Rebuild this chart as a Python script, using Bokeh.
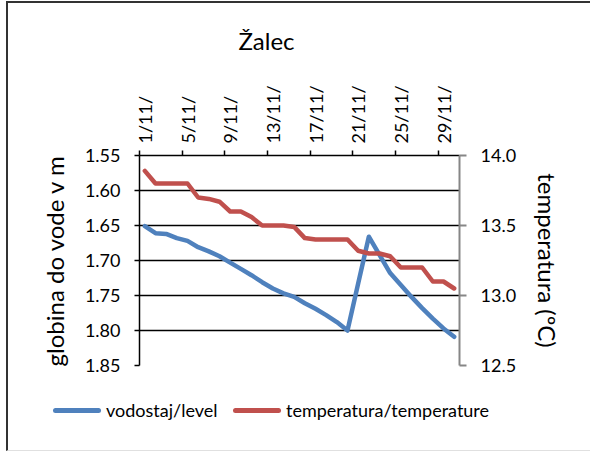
from bokeh.plotting import figure
from bokeh.layouts import column
from bokeh.models import (Range1d, LinearAxis, FixedTicker, NumeralTickFormatter, Div)
from bokeh.embed import file_html
from bokeh.resources import INLINE
import math

# ---- data ----
days = list(range(1, 31))
level = [1.651, 1.661, 1.662, 1.668, 1.672, 1.681, 1.687, 1.694, 1.703, 1.712,
         1.721, 1.731, 1.740, 1.747, 1.752, 1.761, 1.769, 1.778, 1.788, 1.800,
         1.733, 1.666, 1.692, 1.718, 1.735, 1.752, 1.768, 1.783, 1.797, 1.809]
temperature = [13.89, 13.80, 13.80, 13.80, 13.80, 13.70, 13.69, 13.67, 13.60, 13.60,
               13.56, 13.50, 13.50, 13.50, 13.49, 13.41, 13.40, 13.40, 13.40, 13.40,
               13.32, 13.30, 13.30, 13.28, 13.20, 13.20, 13.20, 13.10, 13.10, 13.05]
x_label_days = [1, 5, 9, 13, 17, 21, 25, 29]
x_labels = ["1/11/", "5/11/", "9/11/", "13/11/", "17/11/", "21/11/", "25/11/", "29/11/"]
x_boundaries = [0.5, 4.5, 8.5, 12.5, 16.5, 20.5, 24.5, 28.5]
level_ticks = [1.55, 1.60, 1.65, 1.70, 1.75, 1.80, 1.85]
temp_ticks = [12.5, 13.0, 13.5, 14.0]
series_names = ["vodostaj/level", "temperatura/temperature"]
chart_title = "Žalec"

FONT = "Lato"
BLUE = "#4F81BD"
RED = "#C0504D"

# ---- title strip ----
title_html = ('<div style="position:relative;width:582px;height:60px;">'
              '<span style="position:absolute;left:0px;top:23px;width:517px;text-align:center;'
              f'line-height:30px;font-family:{FONT};font-size:24px;color:black;">{chart_title}</span>'
              '</div>')
title_div = Div(text=title_html, width=582, height=60, margin=0)

# ---- main chart ----
p = figure(width=582, height=322, output_backend="svg", toolbar_location=None,
           x_axis_location="above",
           x_range=Range1d(0.5, 30.5), y_range=Range1d(1.85, 1.55),
           min_border_left=131, min_border_top=92, min_border_right=131,
           min_border_bottom=20, margin=0)
p.outline_line_color = None
p.background_fill_color = "white"
p.border_fill_color = "white"

p.extra_y_ranges = {"temp": Range1d(12.5, 14.0)}

# top x axis
xa = p.xaxis[0]
xa.ticker = FixedTicker(ticks=x_label_days, minor_ticks=x_boundaries)
xa.major_label_overrides = {d: lab for d, lab in zip(x_label_days, x_labels)}
xa.major_label_orientation = math.pi / 2
xa.major_tick_in = 0
xa.major_tick_out = 0
xa.minor_tick_in = 0
xa.minor_tick_out = 5
xa.minor_tick_line_color = "black"
xa.minor_tick_line_width = 1.5
xa.axis_line_color = "black"
xa.axis_line_width = 1.5
xa.major_label_text_font = FONT
xa.major_label_text_font_size = "18px"
xa.major_label_text_color = "black"
xa.major_label_standoff = 7

# left y axis
ya = p.yaxis[0]
ya.ticker = FixedTicker(ticks=level_ticks)
ya.formatter = NumeralTickFormatter(format="0.00")
ya.axis_label = "globina do vode v m"
ya.axis_label_text_font = FONT
ya.axis_label_text_font_size = "24px"
ya.axis_label_text_font_style = "normal"
ya.axis_label_text_color = "black"
ya.axis_label_standoff = 13
ya.major_label_text_font = FONT
ya.major_label_text_font_size = "18px"
ya.major_label_text_color = "black"
ya.major_label_standoff = 14
ya.major_tick_in = 0
ya.major_tick_out = 5
ya.minor_tick_line_color = None
ya.axis_line_color = "black"
ya.axis_line_width = 1.5
ya.major_tick_line_color = "black"
ya.major_tick_line_width = 1.5

# right y axis
ra = LinearAxis(y_range_name="temp", ticker=FixedTicker(ticks=temp_ticks),
                formatter=NumeralTickFormatter(format="0.0"))
ra.axis_label = "temperatura (ºC)"
ra.axis_label_text_font = FONT
ra.axis_label_text_font_size = "24px"
ra.axis_label_text_font_style = "normal"
ra.axis_label_text_color = "black"
ra.axis_label_standoff = 14
ra.major_label_text_font = FONT
ra.major_label_text_font_size = "18px"
ra.major_label_text_color = "black"
ra.major_label_standoff = 14
ra.major_tick_in = 0
ra.major_tick_out = 7
ra.minor_tick_line_color = None
ra.axis_line_color = "#868686"
ra.axis_line_width = 2
ra.major_tick_line_color = "#868686"
ra.major_tick_line_width = 2
p.add_layout(ra, "right")

# grid
p.xgrid.visible = False
p.ygrid.grid_line_color = "black"
p.ygrid.grid_line_width = 1.5

# series
r1 = p.line(days, level, line_color=BLUE, line_width=4.5, line_join="round", line_cap="round")
r2 = p.line(days, temperature, y_range_name="temp", line_color=RED, line_width=4.5,
            line_join="round", line_cap="round")

# ---- legend strip below the chart ----
def swatch(left, color):
    return (f'<span style="position:absolute;left:{left}px;top:23px;width:48px;height:5px;'
            f'background:{color};border-radius:3px;"></span>')

def label(left, text):
    return (f'<span style="position:absolute;left:{left}px;top:15px;line-height:20px;'
            f'font-family:{FONT};font-size:18px;color:black;white-space:nowrap;">{text}</span>')

legend_html = ('<div style="position:relative;width:582px;height:65px;">'
               + swatch(45, BLUE) + label(98, series_names[0])
               + swatch(225, RED) + label(278, series_names[1])
               + '</div>')
legend_div = Div(text=legend_html, width=582, height=65, margin=0)

layout = column(title_div, p, legend_div, spacing=0)
layout.styles = {"border-left": "2px solid #333333", "border-top": "2px solid #333333",
                 "border-bottom": "1px solid #e0e0e0",
                 "margin-left": "6px", "margin-top": "1px"}

open("out.html", "w").write(file_html(layout, INLINE))
